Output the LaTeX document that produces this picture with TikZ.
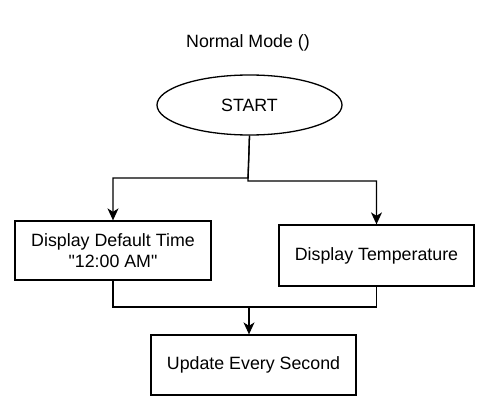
\documentclass[tikz,border=0pt]{standalone}
\usepackage{fontspec}
\setmainfont{Liberation Sans}[Ligatures=TeXOff]
\usetikzlibrary{arrows.meta,shapes.geometric}
\begin{document}
\begin{tikzpicture}[x=1pt,y=-1pt,
  every node/.style={font=\fontsize{17.8}{20.5}\selectfont, align=center, inner sep=0pt},
  boxnode/.style={draw, line width=1.3pt, rectangle},
  conn/.style={line width=1.3pt},
  arr/.style={conn, -{Stealth[length=12pt,width=11pt,inset=3.5pt]}}]
\useasboundingbox (0,0) rectangle (490,412);
\node (title) at (248,43) {Normal Mode ()};
\node[draw, line width=1.3pt, ellipse, minimum width=185pt, minimum height=60pt] (start) at (249.5,105) {START};
\node[boxnode, minimum width=196pt, minimum height=59pt] (dt) at (113,250.5) {Display Default Time\\"12:00 AM"};
\node[boxnode, minimum width=195pt, minimum height=61pt] (tmp) at (376.5,255.5) {Display Temperature};
\node[boxnode, minimum width=205pt, minimum height=60pt] (up) at (253.5,365) {Update Every Second};
\coordinate (j1) at (248,178);
\coordinate (j2) at (248,181);
\coordinate (m) at (249,307);
\draw[arr] (start.south) -- (j1) -| (dt.north);
\draw[arr] (start.south) -- (j2) -| (tmp.north);
\draw[conn] (dt.south) |- (m);
\draw[conn] (tmp.south) |- (m);
\draw[arr] (m) -- (m |- up.north);
\end{tikzpicture}
\end{document}
